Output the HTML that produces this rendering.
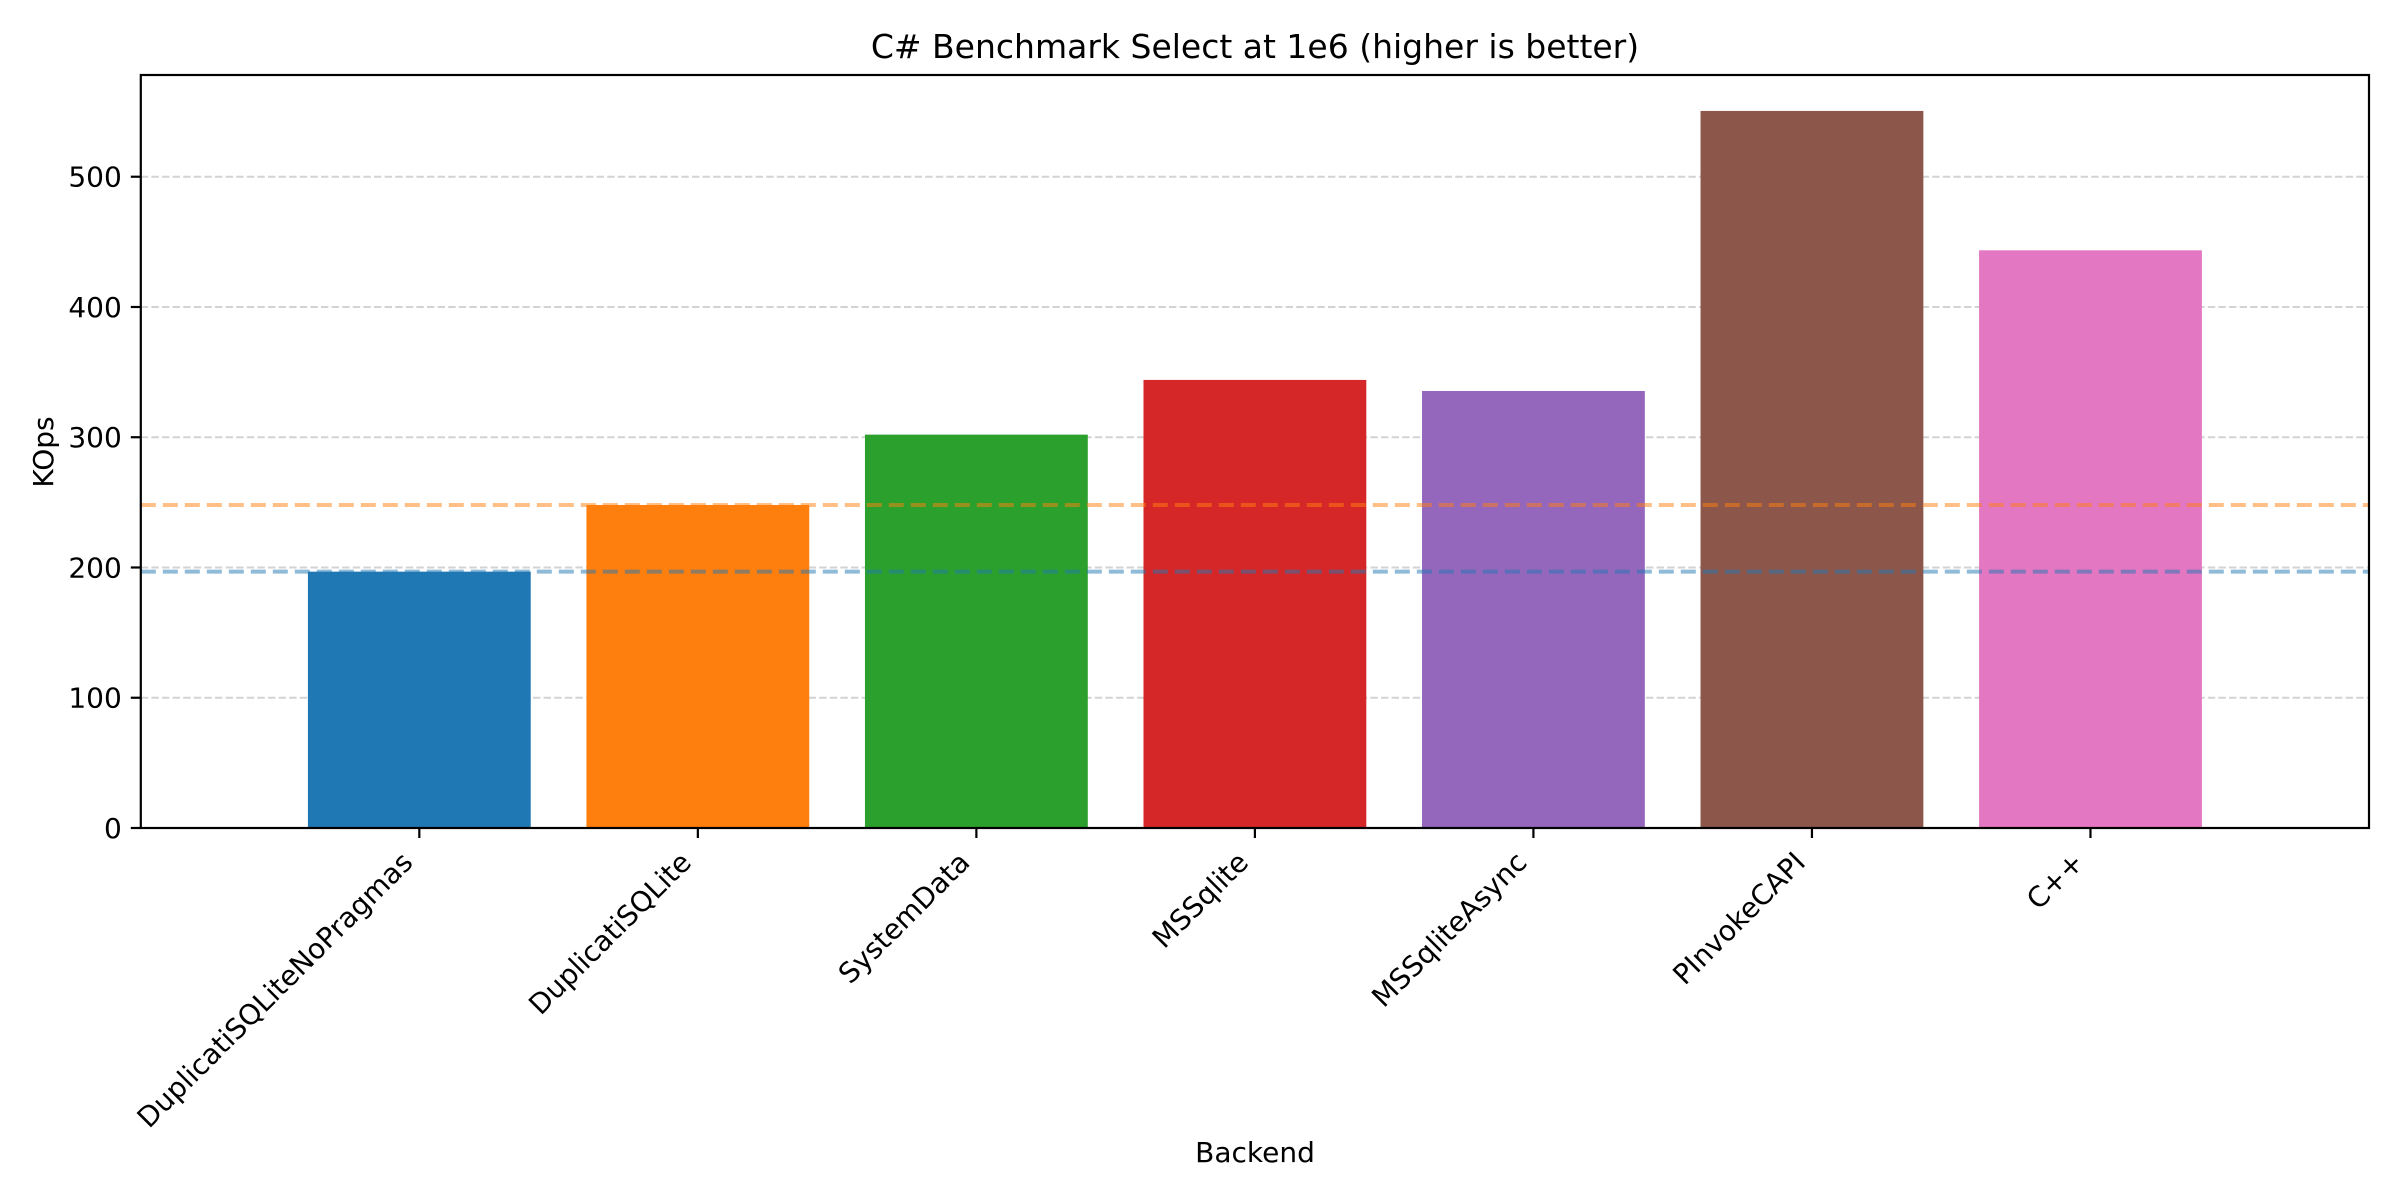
<!DOCTYPE html>
<html><head><meta charset="utf-8"><style>
html,body{margin:0;padding:0;background:#fff}
svg{display:block;font-family:"DejaVu Sans","Liberation Sans",sans-serif}
</style></head><body>
<svg id="chart" width="2400" height="1200" viewBox="0 0 2400 1200" xmlns="http://www.w3.org/2000/svg">
<rect width="2400" height="1200" fill="#fff"/>
<g id="grid"></g><g id="bars"></g><g id="refs"></g><g id="axes"></g>
<text x="1255" y="58" font-size="33" text-anchor="middle">C# Benchmark Select at 1e6 (higher is better)</text>
<text x="1255" y="1162" font-size="28" text-anchor="middle">Backend</text>
<text transform="translate(53,452) rotate(-90)" font-size="28" text-anchor="middle">KOps</text>
</svg>
<script>
const categories = ["DuplicatiSQLiteNoPragmas","DuplicatiSQLite","SystemData","MSSqlite","MSSqliteAsync","PInvokeCAPI","C++"];
const values = [196.8, 248.0, 302, 344, 335.5, 550.5, 443.5];
const colors = ["#1f77b4","#ff7f0e","#2ca02c","#d62728","#9467bd","#8c564b","#e377c2"];
const yTicks = [0,100,200,300,400,500];
const refValues = [248.0, 196.8];
const refColors = ["#ff7f0e","#1f77b4"];

const L=140.8,R=2369,T=75,B=828, yMax=578.1, xMin=-1, xMax=7;
const NS="http://www.w3.org/2000/svg";
function X(i){return L+(i-xMin)/(xMax-xMin)*(R-L);}
function Y(v){return B-v/yMax*(B-T);}
function mk(tag,attrs,parent){const e=document.createElementNS(NS,tag);for(const k in attrs)e.setAttribute(k,attrs[k]);parent.appendChild(e);return e;}
const grid=document.getElementById('grid'),bars=document.getElementById('bars'),refs=document.getElementById('refs'),axes=document.getElementById('axes');
yTicks.forEach(t=>{
  const g=mk('line',{x1:L,x2:R,y1:Y(t),y2:Y(t),stroke:'#d3d3d3','stroke-width':2,'stroke-dasharray':'7.4,3.2'},grid);
  
  
  const tk=mk('line',{x1:L-10,x2:L,y1:Y(t),y2:Y(t),stroke:'#000','stroke-width':2.2},axes);
  
  
  const tx=mk('text',{x:L-19,y:Y(t)+10,'font-size':28,'text-anchor':'end'},axes);
  tx.textContent=t;
  
  
});
const bw=(R-L)/(xMax-xMin)*0.8;
categories.forEach((c,i)=>{
  const cx=X(i);
  const r=mk('rect',{x:cx-bw/2,y:Y(values[i]),width:bw,height:B-Y(values[i]),fill:colors[i]},bars);
  
  
  const tk=mk('line',{x1:cx,x2:cx,y1:B,y2:B+10,stroke:'#000','stroke-width':2.2},axes);
  
  
  const ax=cx-5, ay=864;
  const tx=mk('text',{x:ax,y:ay,'font-size':28,'text-anchor':'end',transform:`rotate(-45 ${ax} ${ay})`},axes);
  tx.textContent=c;
  
  
});
refValues.forEach((v,i)=>{
  const l=mk('line',{x1:L,x2:R,y1:Y(v),y2:Y(v),stroke:refColors[i],'stroke-opacity':0.5,'stroke-width':4,'stroke-dasharray':'15,7'},refs);
  
  
});
const f=mk('rect',{x:L,y:T,width:R-L,height:B-T,fill:'none',stroke:'#000','stroke-width':2.2},axes);


</script>
</body></html>
